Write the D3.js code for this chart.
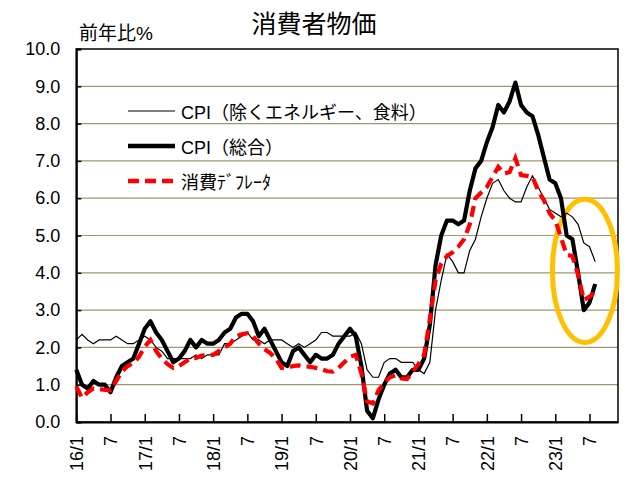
<!DOCTYPE html>
<html>
<head>
<meta charset="utf-8">
<script src="https://cdn.jsdelivr.net/npm/d3@7"></script>
<style>
  body { margin: 0; background: #fff; }
  text { font-family: "Liberation Sans", Arial, "Noto Sans CJK JP", sans-serif; }
</style>
</head>
<body>
<svg id="chart" width="629" height="479"></svg>
<script>
// monthly, 2016/1 - 2023/8, 前年比%
var cpiTotal = [
  1.4, 1.0, 0.9, 1.1, 1.0, 1.0, 0.8, 1.2, 1.5, 1.6, 1.7, 2.1,
  2.5, 2.7, 2.4, 2.2, 1.9, 1.6, 1.7, 1.9, 2.2, 2.0, 2.2, 2.1,
  2.1, 2.2, 2.4, 2.5, 2.8, 2.9, 2.9, 2.7, 2.3, 2.5, 2.2, 1.9,
  1.6, 1.5, 1.9, 2.0, 1.8, 1.6, 1.8, 1.7, 1.7, 1.8, 2.1, 2.3,
  2.5, 2.3, 1.5, 0.3, 0.1, 0.6, 1.0, 1.3, 1.4, 1.2, 1.2, 1.4,
  1.4, 1.7, 2.6, 4.2, 5.0, 5.4, 5.4, 5.3, 5.4, 6.2, 6.8, 7.0,
  7.5, 7.9, 8.5, 8.3, 8.6, 9.1, 8.5, 8.3, 8.2, 7.7, 7.1, 6.5,
  6.4, 6.0, 5.0, 4.9, 4.0, 3.0, 3.2, 3.7
]
var cpiCore = [
  2.2, 2.35, 2.2, 2.1, 2.2, 2.2, 2.2, 2.3, 2.2, 2.1, 2.1, 2.2,
  2.3, 2.2, 2.0, 1.9, 1.7, 1.7, 1.7, 1.7, 1.7, 1.8, 1.7, 1.8,
  1.8, 1.8, 2.1, 2.1, 2.2, 2.3, 2.4, 2.2, 2.2, 2.1, 2.2, 2.2,
  2.2, 2.1, 2.0, 2.1, 2.0, 2.1, 2.2, 2.4, 2.4, 2.3, 2.3, 2.3,
  2.3, 2.4, 2.1, 1.4, 1.2, 1.2, 1.6, 1.7, 1.7, 1.6, 1.6, 1.6,
  1.4, 1.3, 1.6, 3.0, 3.8, 4.5, 4.3, 4.0, 4.0, 4.6, 4.9, 5.5,
  6.0, 6.4, 6.5, 6.2, 6.0, 5.9, 5.9, 6.3, 6.6, 6.3, 6.0, 5.7,
  5.6, 5.5, 5.6, 5.5, 5.3, 4.8, 4.7, 4.3
]
var pceDeflator = [
  0.95, 0.65, 0.8, 0.9, 0.88, 0.86, 0.85, 1.1, 1.35, 1.5, 1.58, 1.75,
  2.02, 2.2, 1.9, 1.7, 1.55, 1.45, 1.5, 1.6, 1.7, 1.72, 1.78, 1.8,
  1.8, 1.9, 2.0, 2.1, 2.3, 2.35, 2.38, 2.3, 2.1, 1.95, 1.85, 1.7,
  1.45, 1.45, 1.5, 1.52, 1.5, 1.48, 1.45, 1.42, 1.36, 1.35, 1.45, 1.6,
  1.75, 1.8, 1.3, 0.55, 0.5, 0.85, 1.05, 1.2, 1.25, 1.17, 1.15, 1.35,
  1.55, 1.8, 2.75, 3.8, 4.25, 4.45, 4.55, 4.7, 4.9, 5.3, 6.0, 6.15,
  6.3, 6.57, 6.84, 6.66, 6.7, 7.07, 6.62, 6.6, 6.57, 6.2, 5.95, 5.6,
  5.4, 4.95, 4.48, 4.45, 3.95, 3.27, 3.36, 3.49
]

var tickMonths = [0, 6, 12, 18, 24, 30, 36, 42, 48, 54, 60, 66, 72, 78, 84, 90]
var tickLabels = ["16/1", "7", "17/1", "7", "18/1", "7", "19/1", "7",
                  "20/1", "7", "21/1", "7", "22/1", "7", "23/1", "7"]
var yTicks = [0, 1, 2, 3, 4, 5, 6, 7, 8, 9, 10]
var seriesNames = ["CPI（除くエネルギー、食料）", "CPI（総合）", "消費ﾃﾞﾌﾚｰﾀ"]

// highlighted area (month index / value)
var markCenter = [89.2, 4.05]
var markRadius = [5.7, 1.92]

var svg = d3.select("#chart")
var plotLeft = 76.3, plotRight = 618, plotTop = 49, plotBottom = 422

var x = d3.scaleLinear().domain([0, 95]).range([plotLeft, plotRight])
var y = d3.scaleLinear().domain([0, 10]).range([plotBottom, plotTop])

var gridColor = "#a0976c"

// gridlines
svg.append("g")
  .selectAll("line")
  .data(yTicks.slice(1, -1))
  .enter()
  .append("line")
    .attr("x1", plotLeft)
    .attr("x2", plotRight)
    .attr("y1", function(d){ return y(d) })
    .attr("y2", function(d){ return y(d) })
    .attr("stroke", gridColor)
    .attr("stroke-width", 1.2)

// plot frame
svg.append("rect")
  .attr("x", plotLeft)
  .attr("y", plotTop)
  .attr("width", plotRight - plotLeft)
  .attr("height", plotBottom - plotTop)
  .attr("fill", "none")
  .attr("stroke", "#111")
  .attr("stroke-width", 1.6)

// y axis
var yAxis = svg.append("g")
  .attr("transform", "translate(" + plotLeft + ",0)")
  .call(d3.axisLeft(y).tickValues(yTicks).tickFormat(d3.format(".1f"))
        .tickSize(-5).tickPadding(16))
yAxis.select(".domain").attr("stroke", "#000").attr("stroke-width", 2)
yAxis.selectAll(".tick line").attr("stroke", "#000").attr("stroke-width", 1.5)
yAxis.selectAll("text")
  .style("font-size", "18px")
  .attr("fill", "#000")

// x axis
var xAxis = svg.append("g")
  .attr("transform", "translate(0," + plotBottom + ")")
  .call(d3.axisBottom(x).tickValues(tickMonths)
        .tickFormat(function(d, i){ return tickLabels[i] })
        .tickSize(-8).tickSizeOuter(0))
xAxis.select(".domain").attr("stroke", "#000").attr("stroke-width", 2.2)
xAxis.selectAll(".tick line").attr("stroke", "#000").attr("stroke-width", 1.5)
xAxis.selectAll("text")
  .attr("transform", "rotate(-90)")
  .attr("x", -14)
  .attr("y", 0)
  .attr("dy", "0.35em")
  .attr("text-anchor", "end")
  .style("font-size", "18px")
  .attr("fill", "#000")

// highlight ellipse
svg.append("ellipse")
  .attr("cx", x(markCenter[0]))
  .attr("cy", y(markCenter[1]))
  .attr("rx", x(markRadius[0]) - x(0))
  .attr("ry", y(0) - y(markRadius[1]))
  .attr("fill", "none")
  .attr("stroke", "#ffc000")
  .attr("stroke-width", 5)

var line = d3.line()
  .x(function(d, i){ return x(i) })
  .y(function(d){ return y(d) })

svg.append("path")
  .datum(cpiTotal)
  .attr("d", line)
  .attr("fill", "none")
  .attr("stroke", "#000")
  .attr("stroke-width", 4.2)
  .attr("stroke-linejoin", "round")

svg.append("path")
  .datum(cpiCore)
  .attr("d", line)
  .attr("fill", "none")
  .attr("stroke", "#000")
  .attr("stroke-width", 1.2)

svg.append("path")
  .datum(pceDeflator)
  .attr("d", line)
  .attr("fill", "none")
  .attr("stroke", "#ff0000")
  .attr("stroke-width", 4.2)
  .attr("stroke-dasharray", "11,6")

// legend
var legendStyles = [
  { w: 1.2, color: "#000", dash: null },
  { w: 4.5, color: "#000", dash: null },
  { w: 4.5, color: "#ff0000", dash: "11,6" }
]
var legendY = [111, 146, 181]

svg.selectAll(".legline")
  .data(legendStyles)
  .enter()
  .append("line")
    .attr("x1", 128)
    .attr("x2", 175)
    .attr("y1", function(d, i){ return legendY[i] })
    .attr("y2", function(d, i){ return legendY[i] })
    .attr("stroke", function(d){ return d.color })
    .attr("stroke-width", function(d){ return d.w })
    .attr("stroke-dasharray", function(d){ return d.dash })

svg.selectAll(".legtext")
  .data(seriesNames)
  .enter()
  .append("text")
    .attr("x", 181)
    .attr("y", function(d, i){ return legendY[i] + 1.5 })
    .attr("dominant-baseline", "central")
    .style("font-size", "18px")
    .text(function(d){ return d })

// titles
svg.append("text")
  .attr("x", 314)
  .attr("y", 24)
  .attr("text-anchor", "middle")
  .attr("dominant-baseline", "central")
  .style("font-size", "25px")
  .text("消費者物価")

svg.append("text")
  .attr("x", 79)
  .attr("y", 33)
  .attr("dominant-baseline", "central")
  .style("font-size", "19px")
  .text("前年比%")
</script>
</body>
</html>
